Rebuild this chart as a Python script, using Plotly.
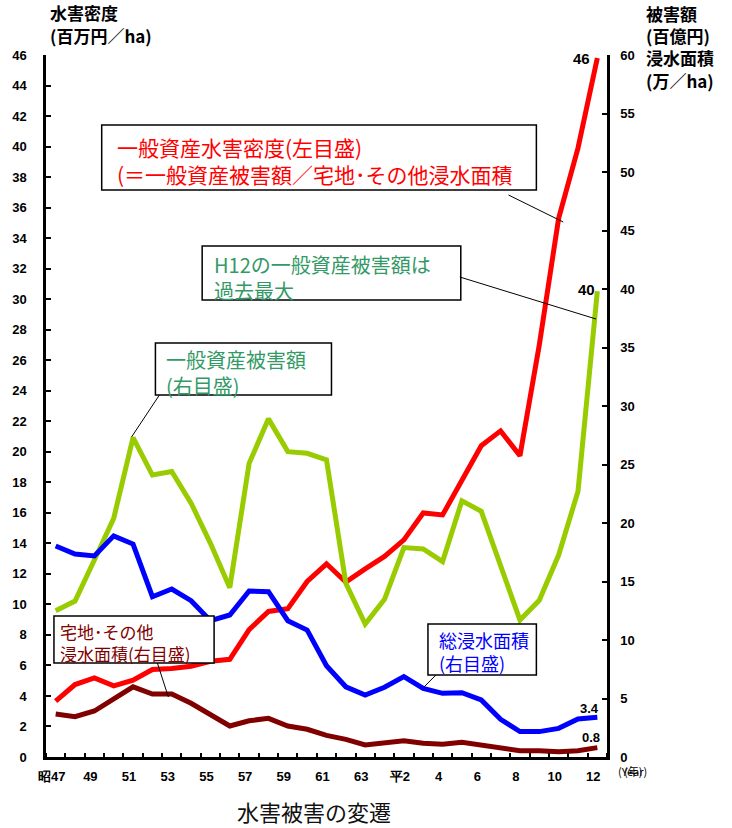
import plotly.graph_objects as go

# ---------------- data ----------------
years = list(range(1972, 2001))
tick_years = years[::2]
tick_text = ["昭47", "49", "51", "53", "55", "57", "59", "61", "63",
             "平2", "4", "6", "8", "10", "12"]

# 一般資産水害密度 (百万円/ha) - left axis
density = [3.66, 4.75, 5.18, 4.66, 5.03, 5.73, 5.80, 5.95, 6.27, 6.40,
           8.35, 9.54, 9.72, 11.5, 12.66, 11.46, 12.33, 13.14, 14.23, 15.99,
           15.86, 18.2, 20.4, 21.37, 19.74, 27.0, 35.3, 39.9, 45.8]
# 一般資産被害額 (百億円) - right axis
damage = [12.5, 13.33, 16.84, 20.4, 27.3, 24.1, 24.4, 21.7, 18.26, 14.47,
          25.1, 28.9, 26.1, 25.96, 25.4, 14.85, 11.37, 13.48, 17.9, 17.78,
          16.7, 21.9, 21.0, 16.4, 11.7, 13.4, 17.26, 22.7, 39.8]
# 総浸水面積 (万ha) - right axis
total_area = [18.03, 17.35, 17.18, 18.9, 18.2, 13.7, 14.36, 13.36, 11.65, 12.14,
              14.19, 14.13, 11.65, 10.85, 7.8, 6.0, 5.3, 5.96, 6.87, 5.87,
              5.44, 5.5, 4.87, 3.22, 2.17, 2.17, 2.45, 3.25, 3.4]
# 宅地・その他浸水面積 (万ha) - right axis
res_area = [3.67, 3.45, 3.93, 4.93, 6.0, 5.38, 5.38, 4.59, 3.59, 2.65,
            3.1, 3.3, 2.65, 2.37, 1.85, 1.51, 1.03, 1.17, 1.39, 1.17,
            1.08, 1.25, 1.03, 0.74, 0.54, 0.54, 0.45, 0.54, 0.8]

# ---------------- layout helpers ----------------
W, H = 732, 828
ML, MR, MT, MB = 43, 125, 55, 71
PW, PH = W - ML - MR, H - MT - MB


def px(x):
    return (x - ML) / PW


def py(y):
    return (H - MB - y) / PH


NUM_FONT = "Liberation Sans Narrow, Arial Narrow, Liberation Sans, Arial"
JP_FONT = "Noto Sans CJK JP, Noto Sans, sans-serif"

RED = "#ff0000"
GREEN = "#99cc00"
BLUE = "#0000ff"
DRED = "#800000"

fig = go.Figure()
lw = 5
fig.add_trace(go.Scatter(x=years, y=damage, mode="lines", yaxis="y2",
                         line=dict(color=GREEN, width=lw), name="一般資産被害額"))
fig.add_trace(go.Scatter(x=years, y=density, mode="lines", yaxis="y",
                         line=dict(color=RED, width=lw), name="一般資産水害密度"))
fig.add_trace(go.Scatter(x=years, y=total_area, mode="lines", yaxis="y2",
                         line=dict(color=BLUE, width=lw), name="総浸水面積"))
fig.add_trace(go.Scatter(x=years, y=res_area, mode="lines", yaxis="y2",
                         line=dict(color=DRED, width=lw), name="宅地・その他浸水面積"))

shapes = []
annotations = []

# boxes with text
boxes = [
    # (x0, y0, x1, y1, text_x, text_cy, text, color, size)
    (99, 125, 536, 190, 112, 160,
     "一般資産水害密度(左目盛)<br>(＝一般資産被害額／宅地･その他浸水面積", RED, 21),
    (200, 246, 460, 300, 210, 277, "H12の一般資産被害額は<br>過去最大", "#339966", 20),
    (153, 343, 330, 395, 162, 373, "一般資産被害額<br>(右目盛)", "#339966", 20),
    (51, 616, 212, 663, 55, 642, "宅地･その他<br>浸水面積(右目盛)", DRED, 17),
    (427, 624, 536, 675, 436, 651, "総浸水面積<br>(右目盛)", BLUE, 18),
]
for x0, y0, x1, y1, tx, ty, text, col, sz in boxes:
    shapes.append(dict(type="rect", xref="paper", yref="paper",
                       x0=px(x0), x1=px(x1), y0=py(y1), y1=py(y0),
                       line=dict(color="black", width=1.5), fillcolor="white",
                       layer="above"))
    annotations.append(dict(xref="paper", yref="paper", x=px(tx), y=py(ty),
                            xanchor="left", yanchor="middle", align="left",
                            text=text, showarrow=False,
                            font=dict(family=JP_FONT, size=sz, color=col)))

# leader lines
leaders = [
    (508, 195, 563, 222),
    (459, 277, 596, 319),
    (157, 395, 129, 437),
    (155, 663, 166, 697),
    (435, 675, 423, 687),
]
for x0, y0, x1, y1 in leaders:
    shapes.append(dict(type="line", xref="paper", yref="paper",
                       x0=px(x0), y0=py(y0), x1=px(x1), y1=py(y1),
                       line=dict(color="black", width=1), layer="above"))

# end-value labels
end_labels = [
    (density[-1], "y", f"{density[-1]:.0f}", -16, 0, 15),
    (damage[-1], "y2", f"{damage[-1]:.0f}", -11, 2, 15),
    (total_area[-1], "y2", f"{total_area[-1]:.1f}", -8, 9, 13),
    (res_area[-1], "y2", f"{res_area[-1]:.1f}", -6, 10, 13),
]
for val, yref, txt, xs, ys, sz in end_labels:
    annotations.append(dict(x=years[-1], y=val, xref="x", yref=yref, text=txt,
                            showarrow=False, xshift=xs, yshift=ys,
                            xanchor="center", yanchor="middle",
                            font=dict(family=NUM_FONT, size=sz, color="black",
                                      weight="bold")))

# axis titles (one annotation per line)
left_title = [("水害密度", 13), ("(百万円／ha)", 35)]
for t, yy in left_title:
    annotations.append(dict(xref="paper", yref="paper", x=px(45), y=py(yy),
                            xanchor="left", yanchor="middle", text=t,
                            showarrow=False,
                            font=dict(family=JP_FONT, size=17, color="black",
                                      weight="bold")))
right_title = [("被害額", 14), ("(百億円)", 36), ("浸水面積", 58), ("(万／ha)", 80)]
for t, yy in right_title:
    annotations.append(dict(xref="paper", yref="paper", x=px(644), y=py(yy),
                            xanchor="left", yanchor="middle", text=t,
                            showarrow=False,
                            font=dict(family=JP_FONT, size=17, color="black",
                                      weight="bold")))
# year unit (overlapping as in source)
for t in ["(Year)", "(年)"]:
    annotations.append(dict(xref="paper", yref="paper", x=px(633), y=py(771),
                            xanchor="center", yanchor="middle", text=t,
                            showarrow=False,
                            font=dict(family=JP_FONT, size=11, color="black")))
# chart title
annotations.append(dict(xref="paper", yref="paper", x=px(312), y=py(811),
                        xanchor="center", yanchor="middle",
                        text="水害被害の変遷", showarrow=False,
                        font=dict(family=JP_FONT, size=22, color="#111")))

fig.update_layout(
    width=W, height=H,
    margin=dict(l=ML, r=MR, t=MT, b=MB, pad=0),
    plot_bgcolor="white", paper_bgcolor="white",
    showlegend=False,
    xaxis=dict(range=[years[0] - 0.5, years[-1] + 0.5],
               tickvals=tick_years, ticktext=tick_text,
               ticks="", showgrid=False, zeroline=False,
               showline=True, linecolor="black", linewidth=2.5,
               tickfont=dict(family=NUM_FONT, size=13, color="black",
                             weight="bold"),
               ticklabelstandoff=6, ticklabelshift=-4,
               minor=dict(tick0=years[0] - 0.5, dtick=1, ticks="inside",
                          ticklen=4, tickwidth=1.5, tickcolor="black",
                          showgrid=False)),
    yaxis=dict(range=[0, 46], dtick=2, ticks="inside", ticklen=5,
               tickwidth=1.5, tickcolor="black",
               showgrid=False, zeroline=False,
               showline=True, linecolor="black", linewidth=2.5,
               tickfont=dict(family=NUM_FONT, size=13, color="black",
                             weight="bold"),
               ticklabelstandoff=14),
    yaxis2=dict(range=[0, 60], dtick=5, ticks="inside", ticklen=5,
                tickwidth=1.5, tickcolor="black", overlaying="y",
                side="right", showgrid=False, zeroline=False,
                showline=True, linecolor="black", linewidth=2.5,
                tickfont=dict(family=NUM_FONT, size=13, color="black",
                              weight="bold"),
                ticklabelstandoff=8),
    shapes=shapes,
    annotations=annotations,
)

fig.write_html("out.html",
               config={"displayModeBar": False},
               post_script="document.body.style.margin='0';"
                           "document.body.style.padding='0';")
